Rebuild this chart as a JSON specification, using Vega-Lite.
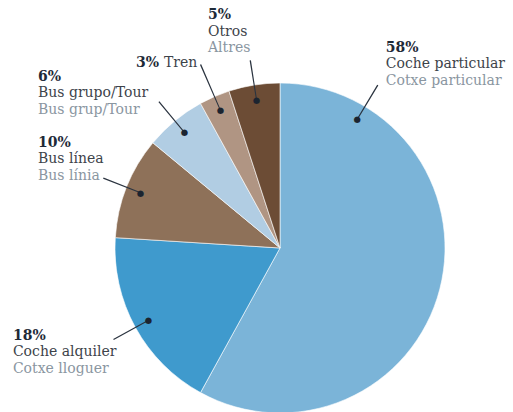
{
  "$schema": "https://vega.github.io/schema/vega-lite/v6.json",
  "autosize": "none",
  "width": 466,
  "height": 328,
  "padding": {"left": 47, "top": 84, "right": 0, "bottom": 0},
  "background": "white",
  "config": {"view": {"stroke": null}, "text": {"font": "DejaVu Serif", "fontSize": 14}},
  "data": {
    "values": [
      {"name": "Coche particular", "ca": "Cotxe particular", "pct": 58},
      {"name": "Coche alquiler", "ca": "Cotxe lloguer", "pct": 18},
      {"name": "Bus línea", "ca": "Bus línia", "pct": 10},
      {"name": "Bus grupo/Tour", "ca": "Bus grup/Tour", "pct": 6},
      {"name": "Tren", "ca": "", "pct": 3},
      {"name": "Otros", "ca": "Altres", "pct": 5}
    ]
  },
  "transform": [
    {"window": [{"op": "row_number", "as": "idx"}]},
    {"stack": "pct", "groupby": [], "sort": [{"field": "idx"}], "as": ["s0", "s1"]},
    {"calculate": "datum.pct > 50 ? datum.s0 + 8.6 : (datum.s0 + datum.s1) / 2", "as": "labelPos"},
    {"calculate": "datum.pct + '%'", "as": "pctLabel"}
  ],
  "layer": [
    {
      "mark": {"type": "arc", "radius": 165, "stroke": "white", "strokeWidth": 0.6},
      "encoding": {
        "theta": {"field": "s0", "type": "quantitative", "scale": {"domain": [0, 100]}},
        "theta2": {"field": "s1"},
        "color": {
          "field": "name",
          "type": "nominal",
          "scale": {
            "domain": ["Coche particular", "Coche alquiler", "Bus línea", "Bus grupo/Tour", "Tren", "Otros"],
            "range": ["#7bb4d8", "#3f9acd", "#8e7159", "#b1cde3", "#b09583", "#6c4c35"]
          },
          "legend": null
        }
      }
    },
    {
      "mark": {
        "type": "arc",
        "color": "#2b3440",
        "radius": {"expr": "datum.name === 'Tren' ? 200 : 190"},
        "radius2": 150,
        "thetaOffset": -0.0035,
        "theta2Offset": 0.0035
      },
      "encoding": {
        "theta": {"field": "labelPos", "type": "quantitative", "scale": {"domain": [0, 100]}},
        "theta2": {"field": "labelPos"}
      }
    },
    {
      "mark": {"type": "text", "font": "DejaVu Sans", "fontSize": 8.5, "align": "center", "baseline": "middle", "color": "#1b2430", "radius": 150},
      "encoding": {
        "theta": {"field": "labelPos", "type": "quantitative", "stack": false, "scale": {"domain": [0, 100]}},
        "text": {"value": "●"}
      }
    },
    {
      "mark": {
        "type": "text", "fontWeight": "bold", "align": "left", "baseline": "alphabetic", "color": "#1e2a38", "radius": 190,
        "dx": {"expr": "[8, -100.6, -65.3, -120.9, -68.6, -42.3][datum.idx - 1]"},
        "dy": {"expr": "[-33.1, 0.4, -31.1, -20.6, -6.6, -41.3][datum.idx - 1]"}
      },
      "encoding": {
        "theta": {"field": "labelPos", "type": "quantitative", "stack": false, "scale": {"domain": [0, 100]}},
        "text": {"field": "pctLabel"}
      }
    },
    {
      "mark": {
        "type": "text", "align": "left", "baseline": "alphabetic", "color": "#3d434a", "radius": 190,
        "dx": {"expr": "[8, -100.6, -65.3, -120.9, -40.6, -42.3][datum.idx - 1]"},
        "dy": {"expr": "[-16.8, 16.7, -14.8, -4.3, -6.6, -24.8][datum.idx - 1]"}
      },
      "encoding": {
        "theta": {"field": "labelPos", "type": "quantitative", "stack": false, "scale": {"domain": [0, 100]}},
        "text": {"field": "name"}
      }
    },
    {
      "mark": {
        "type": "text", "align": "left", "baseline": "alphabetic", "color": "#8a96a1", "radius": 190,
        "dx": {"expr": "[8, -100.6, -65.3, -120.9, -68.6, -42.3][datum.idx - 1]"},
        "dy": {"expr": "[-0.5, 33, 1.5, 12, 0, -8.3][datum.idx - 1]"}
      },
      "encoding": {
        "theta": {"field": "labelPos", "type": "quantitative", "stack": false, "scale": {"domain": [0, 100]}},
        "text": {"field": "ca"}
      }
    }
  ]
}
